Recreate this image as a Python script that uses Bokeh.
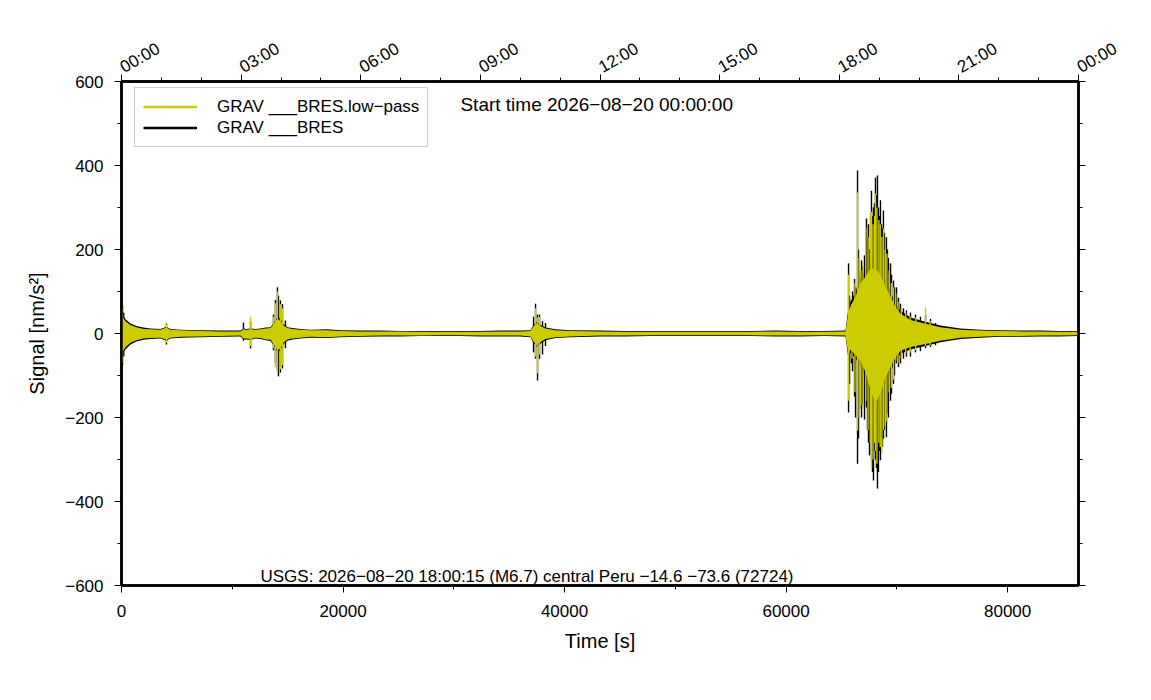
from bokeh.plotting import figure
from bokeh.models import (Range1d, LinearAxis, FixedTicker, Legend, LegendItem, Label)
from bokeh.embed import file_html
from bokeh.resources import INLINE

# ---------------- data ----------------
# envelope of the traces (s, nm/s^2)
time_s = [0, 90, 360, 810, 1350, 1990, 2620, 3520, 4060, 4420, 5330, 7130, 8940, 10740,
          11010, 11290, 11650, 12100, 12550, 13000, 13450, 13720, 14080, 14350, 14630,
          14990, 15440, 16160, 17060, 18600, 19770, 21500, 23380, 25200, 26990, 28800,
          30600, 32400, 34220, 36020, 36920, 37200, 37470, 37740, 38280, 39180, 40540,
          43240, 45500, 47760, 50000, 52270, 54500, 56790, 59000, 61300, 63500, 65360,
          65640, 65820, 66270, 66720, 67170, 67620, 68070, 68520, 68980, 69430, 69880,
          70330, 71230, 72590, 73940, 75750, 77550, 79360, 81200, 82970, 84700, 86400]

raw_upper = [40, 45, 34, 24, 18, 14, 12, 11, 16, 11, 9, 8, 7, 7,
             12, 11, 12, 11, 12, 14, 15, 25, 40, 35, 22,
             15, 13, 11, 9, 10, 8, 7, 7, 6, 6, 6,
             6, 6, 7, 7, 8, 20, 28, 22, 14, 10, 8,
             7, 6, 6, 6, 6, 6, 6, 7, 6, 6, 7,
             60, 75, 100, 135, 150, 175, 175, 160, 130, 100, 72,
             55, 38, 28, 19, 12, 9, 8, 7, 7, 6, 6]
raw_lower = [-45, -50, -38, -26, -19, -15, -13, -12, -17, -12, -10, -9, -8, -7,
             -14, -14, -15, -12, -13, -16, -18, -28, -45, -40, -25,
             -17, -14, -12, -10, -11, -9, -8, -7, -7, -6, -6,
             -6, -7, -7, -7, -9, -22, -32, -26, -16, -11, -9,
             -7, -7, -6, -6, -6, -6, -6, -7, -7, -6, -7,
             -60, -45, -60, -75, -105, -150, -185, -160, -120, -92, -65,
             -48, -38, -30, -21, -13, -10, -8, -8, -7, -7, -6]

lp_upper = [35, 40, 29, 20, 15, 11, 10, 9, 14, 9, 8, 6, 5, 5,
            10, 9, 10, 9, 10, 12, 13, 22, 35, 30, 19,
            13, 11, 9, 8, 8, 6, 5, 5, 5, 4, 4,
            4, 4, 5, 5, 6, 17, 24, 19, 12, 8, 6,
            5, 4, 4, 4, 4, 4, 4, 5, 4, 4, 5,
            52, 65, 88, 120, 135, 155, 155, 140, 112, 88, 62,
            47, 32, 23, 15, 9, 7, 6, 5, 5, 4, 4]
lp_lower = [-40, -44, -33, -22, -16, -12, -11, -10, -15, -10, -8, -7, -6, -5,
            -12, -12, -13, -10, -11, -14, -15, -24, -40, -35, -22,
            -14, -12, -10, -8, -9, -7, -6, -5, -5, -5, -4,
            -4, -5, -5, -5, -7, -19, -28, -22, -13, -9, -7,
            -5, -5, -4, -4, -4, -4, -4, -5, -5, -4, -5,
            -52, -38, -52, -66, -92, -135, -165, -142, -105, -80, -56,
            -41, -32, -25, -17, -10, -8, -6, -6, -5, -5, -4]

# individual peaks of the raw trace (black)
raw_spike_t = [90, 200, 4060, 11010, 11650, 13720, 13900, 14080, 14170, 14350, 14535, 14800,
               37200, 37380, 37560, 37740, 38010, 38280,
               65640, 65730, 65900, 66000, 66180, 66270, 66450, 66540, 66630, 66810, 66900,
               67080, 67260, 67350, 67440, 67530, 67710, 67800, 67890, 67980, 68070, 68160,
               68250, 68340, 68430, 68520, 68610, 68700, 68790, 68880, 69060, 69150, 69240,
               69430, 69520, 69700, 69790, 69970, 70150, 70330, 70600, 70870, 71230, 71680,
               72130, 72590, 73040, 73490]
raw_spike_hi = [67, 50, 24, 26, 30, 45, 80, 110, 90, 79, 70, 31,
                40, 71, 45, 45, 30, 25,
                167, 90, 80, 100, 130, 110, 388, 200, 150, 174, 160,
                186, 274, 230, 260, 200, 340, 280, 300, 310, 371, 330,
                376, 300, 280, 317, 260, 250, 293, 240, 229, 200, 180,
                167, 140, 126, 110, 110, 85, 71, 60, 55, 50, 45,
                40, 45, 35, 25]
raw_spike_lo = [-76, -55, -26, -17, -36, -40, -70, -88, -102, -93, -83, -35,
                -45, -60, -112, -60, -50, -30,
                -188, -120, -71, -90, -150, -200, -310, -250, -180, -200, -170,
                -205, -176, -230, -260, -290, -300, -330, -350, -280, -300, -320,
                -369, -330, -280, -302, -250, -270, -250, -230, -247, -190, -200,
                -160, -143, -120, -100, -71, -80, -71, -60, -55, -55, -45,
                -42, -35, -32, -28]

# individual peaks of the low-pass trace (yellow)
lp_spike_t = [90, 4060, 11650, 13720, 13900, 14080, 14350, 14535,
              37380, 37560, 37740,
              65650, 65950, 66220, 66450, 66600, 66760, 66950, 67200, 67400, 67600,
              67710, 67850, 68000, 68070, 68200, 68380, 68500, 68650, 68800, 68950,
              69100, 69300, 69500, 69700, 69900, 70100, 70400, 70800, 71200, 71700,
              72590, 73000]
lp_spike_hi = [60, 22, 40, 40, 72, 100, 70, 60,
               60, 38, 40,
               140, 70, 120, 336, 180, 150, 170, 252, 230, 290,
               290, 260, 280, 333, 300, 270, 260, 230, 250, 200,
               190, 150, 120, 110, 95, 75, 60, 50, 40, 38,
               62, 30]
lp_spike_lo = [-70, -22, -30, -35, -80, -92, -85, -75,
               -55, -95, -50,
               -160, -60, -140, -231, -200, -170, -180, -160, -230, -260,
               -321, -300, -260, -280, -310, -260, -270, -286, -230, -220,
               -210, -140, -130, -110, -65, -70, -60, -50, -45, -40,
               -30, -28]

x_ticks = [0, 20000, 40000, 60000, 80000]
x_minor = [10000, 30000, 50000, 70000]
y_ticks = [-600, -400, -200, 0, 200, 400, 600]
y_tick_labels = ["\u2212600", "\u2212400", "\u2212200", "0", "200", "400", "600"]
y_minor = [-500, -300, -100, 100, 300, 500]
top_ticks = [0, 10800, 21600, 32400, 43200, 54000, 64800, 75600, 86400]
top_tick_labels = ["00:00", "03:00", "06:00", "09:00", "12:00", "15:00", "18:00", "21:00", "00:00"]
top_minor = [3600, 7200, 14400, 18000, 25200, 28800, 36000, 39600, 46800, 50400,
             57600, 61200, 68400, 72000, 79200, 82800]

series_names = ["GRAV ___BRES.low\u2212pass", "GRAV ___BRES"]
start_text = "Start time 2026\u221208\u221220 00:00:00"
event_text = "USGS: 2026\u221208\u221220 18:00:15 (M6.7) central Peru \u221214.6 \u221273.6 (72724)"

YELLOW = "#cccc00"
FONT = "Liberation Sans"
NAN = float("nan")

# ---------------- figure ----------------
p = figure(width=1143, height=692, output_backend="svg", toolbar_location=None,
           x_range=Range1d(0, 86400), y_range=Range1d(-600, 600),
           x_axis_location=None, y_axis_location=None,
           min_border_left=121, min_border_right=65, min_border_top=81, min_border_bottom=107)
p.xgrid.visible = False
p.ygrid.visible = False
p.outline_line_color = "black"
p.outline_line_width = 2.5
p.background_fill_color = "white"
p.border_fill_color = "white"

# raw (black)
p.varea(x=time_s, y1=raw_lower, y2=raw_upper, fill_color="black")
p.segment(x0=raw_spike_t, y0=raw_spike_lo, x1=raw_spike_t, y1=raw_spike_hi,
          line_color="black", line_width=1.4)
# low-pass (yellow) on top
p.varea(x=time_s, y1=lp_lower, y2=lp_upper, fill_color=YELLOW)
p.segment(x0=lp_spike_t, y0=lp_spike_lo, x1=lp_spike_t, y1=lp_spike_hi,
          line_color=YELLOW, line_width=1.4)

# legend proxies (nothing drawn)
leg_y = p.line(x=[NAN], y=[NAN], line_color=YELLOW, line_width=2.5)
leg_k = p.line(x=[NAN], y=[NAN], line_color="black", line_width=2.5)
legend = Legend(items=[LegendItem(label=series_names[0], renderers=[leg_y]),
                       LegendItem(label=series_names[1], renderers=[leg_k])],
                location=(13, 438), margin=0, padding=8, spacing=0,
                glyph_width=54, glyph_height=21, label_standoff=20,
                label_text_font=FONT, label_text_font_size="17px",
                label_text_color="black", label_height=21,
                border_line_color="#999999", border_line_width=1,
                background_fill_alpha=1.0)
p.add_layout(legend, "center")


def style_axis(ax, labels=True):
    ax.axis_line_width = 2.5
    ax.axis_line_color = "black"
    ax.major_tick_out = 7
    ax.major_tick_in = 0
    ax.minor_tick_out = 4
    ax.minor_tick_in = 0
    ax.major_tick_line_color = "black"
    ax.minor_tick_line_color = "black"
    ax.major_label_text_font = FONT
    ax.major_label_text_font_size = "17px" if labels else "0px"
    ax.major_label_text_color = "black"
    ax.axis_label_text_font = FONT
    ax.axis_label_text_font_size = "20px"
    ax.axis_label_text_font_style = "normal"
    ax.axis_label_text_color = "black"


xb = LinearAxis(ticker=FixedTicker(ticks=x_ticks, minor_ticks=x_minor), axis_label="Time [s]")
style_axis(xb)
xb.major_label_standoff = 12
xb.axis_label_standoff = 10
p.add_layout(xb, "below")

xt = LinearAxis(ticker=FixedTicker(ticks=top_ticks, minor_ticks=top_minor),
                major_label_overrides={t: l for t, l in zip(top_ticks, top_tick_labels)})
style_axis(xt)
xt.major_label_orientation = 0.52
xt.major_label_standoff = 6
p.add_layout(xt, "above")

yl = LinearAxis(ticker=FixedTicker(ticks=y_ticks, minor_ticks=y_minor),
                major_label_overrides={t: l for t, l in zip(y_ticks, y_tick_labels)},
                axis_label="Signal [nm/s\u00b2]")
style_axis(yl)
yl.major_label_standoff = 11
yl.axis_label_standoff = 14
p.add_layout(yl, "left")

yr = LinearAxis(ticker=FixedTicker(ticks=y_ticks, minor_ticks=y_minor))
style_axis(yr, labels=False)
p.add_layout(yr, "right")

p.add_layout(Label(x=30600, y=545, text=start_text, text_font=FONT, text_font_size="19px",
                   text_baseline="middle", text_align="left", text_color="black"))
p.add_layout(Label(x=12550, y=-578, text=event_text, text_font=FONT, text_font_size="17px",
                   text_baseline="middle", text_align="left", text_color="black"))

open("out.html", "w").write(file_html(p, INLINE))
